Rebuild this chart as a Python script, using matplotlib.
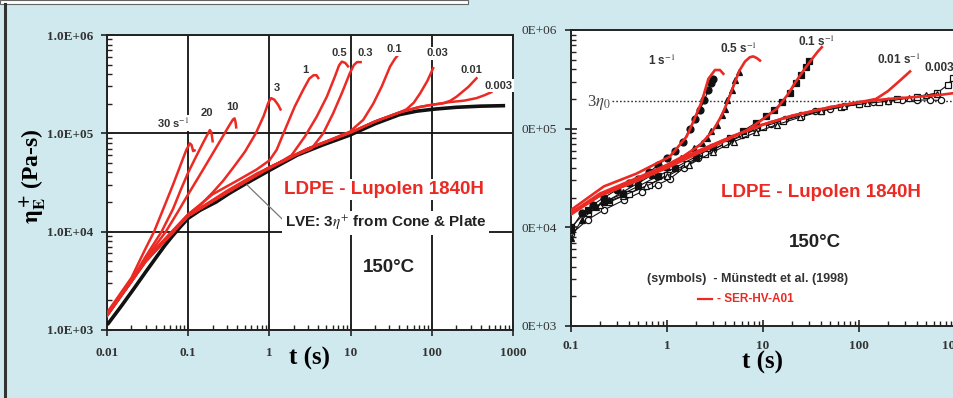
import matplotlib.pyplot as plt
from matplotlib.patches import Rectangle
from matplotlib.lines import Line2D
from matplotlib.ticker import LogLocator, NullFormatter

plt.rcParams['mathtext.fontset'] = 'stix'

BG = '#cfe9ee'
RED = '#ec2a24'
SANS = 'Liberation Sans'
SERIF = 'Liberation Serif'

# ---- left panel: LVE envelope (3 eta+ from cone & plate) ----
lve_t = [0.0104, 0.015, 0.021, 0.03, 0.041, 0.052, 0.063, 0.08, 0.1, 0.14, 0.22, 0.32, 0.52, 1.0, 2.2,
         4.5, 9.8, 20, 40, 65, 105, 200, 400, 760]
lve_eta = [1170, 1750, 2570, 3900, 5580, 7300, 8900, 1.12e4, 1.37e4, 1.65e4, 2.0e4, 2.45e4, 3.1e4, 4.2e4,
           6.0e4, 7.6e4, 9.6e4, 1.25e5, 1.55e5, 1.68e5, 1.76e5, 1.84e5, 1.89e5, 1.91e5]

# ---- left panel: SER curves, one per strain rate ----
t_30 = [0.01, 0.02, 0.03, 0.038, 0.05, 0.065, 0.08, 0.095, 0.105, 0.11, 0.115, 0.12]
eta_30 = [1500, 3400, 6800, 1.0e4, 1.75e4, 3.0e4, 4.7e4, 6.8e4, 7.9e4, 7.6e4, 6.6e4, 6.7e4]
t_20 = [0.01, 0.02, 0.03, 0.047, 0.065, 0.08, 0.1, 0.125, 0.15, 0.17, 0.185, 0.193, 0.2]
eta_20 = [1450, 3200, 5600, 1.0e4, 1.7e4, 2.6e4, 4.0e4, 5.8e4, 7.8e4, 9.5e4, 1.08e5, 1.02e5, 8.3e4]
t_10 = [0.01, 0.02, 0.035, 0.053, 0.075, 0.1, 0.14, 0.19, 0.25, 0.31, 0.355, 0.372, 0.383, 0.39]
eta_10 = [1450, 3100, 6300, 1.0e4, 1.6e4, 2.4e4, 3.8e4, 5.8e4, 8.5e4, 1.15e5, 1.38e5, 1.42e5, 1.3e5, 1.15e5]
t_3 = [0.01, 0.03, 0.063, 0.1, 0.14, 0.2, 0.27, 0.36, 0.5, 0.68, 0.85, 0.97, 1.05, 1.15, 1.28, 1.37]
eta_3 = [1450, 5200, 1.0e4, 1.5e4, 1.85e4, 2.5e4, 3.3e4, 4.5e4, 6.5e4, 1.0e5, 1.5e5, 2.05e5, 2.28e5, 2.2e5,
         1.95e5, 1.75e5]
t_1 = [0.01, 0.03, 0.063, 0.1, 0.2, 0.4, 0.7, 1.0, 1.23, 1.55, 2.05, 2.6, 3.1, 3.5, 3.8, 4.0]
eta_1 = [1450, 5200, 1.0e4, 1.5e4, 2.4e4, 3.3e4, 4.3e4, 5.3e4, 6.8e4, 1.08e5, 1.87e5, 2.76e5, 3.6e5, 3.9e5,
         3.9e5, 3.65e5]
t_05 = [0.01, 0.03, 0.063, 0.1, 0.3, 0.7, 1.3, 1.88, 2.74, 3.83, 5.1, 6.4, 7.2, 7.8, 8.6, 9.3]
eta_05 = [1400, 5100, 9800, 1.45e4, 2.6e4, 3.9e4, 5.0e4, 6.0e4, 9.3e4, 1.48e5, 2.36e5, 3.77e5, 4.9e5, 5.36e5,
          5.2e5, 4.8e5]
t_03 = [0.01, 0.03, 0.063, 0.1, 0.3, 1.0, 2.2, 3.3, 4.6, 6.1, 7.8, 9.8, 11.0, 12.0, 13.3]
eta_03 = [1400, 5100, 9800, 1.45e4, 2.55e4, 4.4e4, 6.1e4, 7.0e4, 1.0e5, 1.6e5, 2.56e5, 4.1e5, 4.96e5, 5.3e5,
          5.3e5]
t_01 = [0.01, 0.03, 0.063, 0.1, 0.3, 1.0, 3.0, 6.0, 9.8, 14.3, 19.0, 24.2, 30.6, 35.0, 38.6]
eta_01 = [1400, 5000, 9700, 1.45e4, 2.5e4, 4.5e4, 7.0e4, 8.8e4, 1.04e5, 1.37e5, 2.0e5, 3.0e5, 4.77e5, 5.7e5,
          6.3e5]
t_003 = [0.01, 0.03, 0.063, 0.1, 0.3, 1.0, 3.0, 10, 20, 40, 49, 60, 72, 88, 104]
eta_003 = [1400, 5000, 9600, 1.45e4, 2.5e4, 4.5e4, 7.0e4, 1.02e5, 1.32e5, 1.63e5, 1.76e5, 2.05e5, 2.56e5,
           3.4e5, 4.6e5]
t_001 = [0.01, 0.03, 0.1, 0.3, 1.0, 3.0, 10, 20, 40, 70, 100, 138, 170, 202, 280, 355]
eta_001 = [1400, 5000, 1.45e4, 2.5e4, 4.5e4, 7.0e4, 1.02e5, 1.32e5, 1.63e5, 1.85e5, 1.95e5, 2.02e5, 2.15e5,
           2.36e5, 2.95e5, 3.63e5]
t_0003 = [0.01, 0.03, 0.1, 0.3, 1.0, 3.0, 10, 20, 40, 70, 100, 168, 250, 355, 450, 540]
eta_0003 = [1400, 5000, 1.45e4, 2.5e4, 4.5e4, 7.0e4, 1.02e5, 1.32e5, 1.63e5, 1.85e5, 1.95e5, 2.08e5, 2.15e5,
            2.28e5, 2.45e5, 2.62e5]

left_labels = ['30 s$^{-1}$', '20', '10', '3', '1', '0.5', '0.3', '0.1', '0.03', '0.01', '0.003']
left_label_t = [0.065, 0.169, 0.35, 1.23, 2.74, 7.26, 15.0, 34.5, 117, 309, 659]
left_label_eta = [1.28e5, 1.6e5, 1.87e5, 2.87e5, 4.4e5, 6.5e5, 6.5e5, 7.16e5, 6.5e5, 4.4e5, 3.05e5]

# ---- right panel: SER lines ----
rt_1 = [0.1, 0.22, 0.48, 1.07, 1.6, 1.88, 2.3, 2.7, 3.16, 3.56, 3.86]
reta_1 = [1.5e4, 2.6e4, 3.5e4, 5.2e4, 8.3e4, 1.18e5, 1.88e5, 3.2e5, 3.93e5, 3.93e5, 3.6e5]
rt_05 = [0.1, 0.2, 0.5, 1.0, 1.5, 2.2, 3.0, 3.7, 4.3, 5.0, 5.7, 6.5, 7.3, 7.9, 8.6, 9.3]
reta_05 = [1.4e4, 2.2e4, 3.2e4, 4.3e4, 5.3e4, 6.8e4, 9.5e4, 1.35e5, 1.9e5, 2.8e5, 3.9e5, 4.8e5, 5.3e5, 5.4e5,
           5.2e5, 4.9e5]
rt_01 = [0.1, 0.2, 0.5, 1, 2, 4, 7, 10, 14, 18, 22, 27, 32, 37, 41]
reta_01 = [1.35e4, 2.1e4, 3.0e4, 4.0e4, 5.5e4, 7.5e4, 9.8e4, 1.25e5, 1.6e5, 2.2e5, 3.0e5, 4.0e5, 5.0e5, 6.0e5,
           6.7e5]
rt_001 = [0.1, 0.2, 0.5, 1, 2, 5, 10, 20, 50, 100, 150, 200, 260, 340]
reta_001 = [1.4e4, 2.1e4, 3.0e4, 4.2e4, 5.8e4, 8.5e4, 1.1e5, 1.35e5, 1.65e5, 1.85e5, 2.0e5, 2.4e5, 3.0e5, 3.8e5]
rt_0003 = [0.1, 0.2, 0.5, 1, 2, 5, 10, 20, 50, 100, 200, 400, 700, 1000]
reta_0003 = [1.4e4, 2.1e4, 3.0e4, 4.2e4, 5.8e4, 8.5e4, 1.1e5, 1.35e5, 1.65e5, 1.85e5, 2.0e5, 2.1e5, 2.2e5, 2.3e5]

# ---- right panel: Muenstedt et al. symbols ----
mt_1 = [0.1, 0.13, 0.17, 0.22, 0.3, 0.4, 0.5, 0.65, 0.81, 1.0, 1.2, 1.47, 1.73, 1.95, 2.2, 2.45, 2.7, 2.9, 3.05]
meta_1 = [9.5e3, 1.4e4, 1.7e4, 2.0e4, 2.4e4, 2.8e4, 3.1e4, 3.6e4, 4.3e4, 5.0e4, 6.0e4, 7.4e4, 1.0e5, 1.25e5,
          1.55e5, 1.95e5, 2.45e5, 2.9e5, 3.2e5]
mt_05 = [0.1, 0.13, 0.18, 0.25, 0.35, 0.5, 0.7, 1.0, 1.4, 1.9, 2.3, 2.6, 2.9, 3.3, 3.7, 4.0, 4.25, 4.7, 5.1, 5.66]
meta_05 = [7.8e3, 1.2e4, 1.6e4, 1.9e4, 2.3e4, 2.8e4, 3.4e4, 4.1e4, 5.0e4, 6.3e4, 7.2e4, 8.0e4, 9.4e4, 1.09e5,
           1.38e5, 1.6e5, 1.96e5, 2.47e5, 3.1e5, 3.78e5]
mt_01 = [0.1, 0.15, 0.22, 0.35, 0.5, 0.8, 1.2, 2, 3, 4.5, 6.2, 8.5, 10.7, 13, 15.7, 19, 22, 25, 28, 30.5]
meta_01 = [1.0e4, 1.5e4, 1.8e4, 2.2e4, 2.6e4, 3.3e4, 4.0e4, 5.2e4, 6.5e4, 8.0e4, 9.5e4, 1.15e5, 1.33e5, 1.55e5,
           1.85e5, 2.3e5, 2.9e5, 3.5e5, 4.2e5, 4.9e5]
mt_c = [0.1, 0.15, 0.22, 0.36, 0.55, 0.8, 1.07, 1.5, 2.1, 3.0, 4.2, 6, 8.5, 12, 17, 25, 35, 50, 70, 100, 140,
        200, 280, 400, 550, 720]
meta_c = [8.5e3, 1.2e4, 1.5e4, 1.9e4, 2.3e4, 2.7e4, 3.1e4, 4.0e4, 5.0e4, 6.1e4, 7.3e4, 8.6e4, 1.0e5, 1.12e5,
          1.25e5, 1.38e5, 1.5e5, 1.6e5, 1.7e5, 1.78e5, 1.85e5, 1.9e5, 1.93e5, 1.95e5, 1.95e5, 1.93e5]
mt_s = [0.15, 0.25, 0.4, 0.65, 1.0, 1.6, 2.5, 4, 6.5, 10, 16, 25, 40, 65, 100, 160, 250, 400, 650, 850, 950]
meta_s = [1.4e4, 1.8e4, 2.2e4, 2.7e4, 3.4e4, 4.4e4, 5.6e4, 7.0e4, 8.8e4, 1.05e5, 1.2e5, 1.35e5, 1.52e5, 1.65e5,
          1.78e5, 1.88e5, 1.98e5, 2.1e5, 2.3e5, 2.8e5, 3.3e5]
mt_tri = [0.2, 0.35, 0.6, 1.0, 1.7, 3.0, 5, 8.5, 14, 24, 40, 70, 120, 200, 330, 500, 650]
meta_tri = [1.7e4, 2.1e4, 2.6e4, 3.3e4, 4.3e4, 5.8e4, 7.4e4, 9.2e4, 1.1e5, 1.3e5, 1.5e5, 1.68e5, 1.8e5, 1.9e5,
            2.05e5, 2.2e5, 2.25e5]

right_labels = ['1 s$^{-1}$', '0.5 s$^{-1}$', '0.1 s$^{-1}$', '0.01 s$^{-1}$', '0.003']
right_label_t = [0.887, 5.62, 36.5, 261, 681]
right_label_eta = [4.85e5, 6.4e5, 7.6e5, 4.97e5, 4.12e5]

eta0_3 = 1.92e5

fig = plt.figure(figsize=(9.54, 3.98), dpi=100, facecolor=BG)

# frame pieces of the original slide
fig.patches.append(Rectangle((0, 1 - 4 / 398), 468 / 954, 4 / 398, transform=fig.transFigure,
                             facecolor='white', edgecolor='#666666', lw=0.8))
fig.lines.append(Line2D([5 / 954, 5 / 954], [0, 1 - 4 / 398], transform=fig.transFigure,
                        color='#333333', lw=2.2))


def style_axes(ax, xt, xl, yt, yl, ybold=True, xpad=8):
    ax.set_xscale('log')
    ax.set_yscale('log')
    ax.set_facecolor('white')
    for s in ax.spines.values():
        s.set_linewidth(1.4)
        s.set_color('#222222')
    ax.xaxis.set_minor_locator(LogLocator(base=10, subs=range(2, 10), numticks=20))
    ax.yaxis.set_minor_locator(LogLocator(base=10, subs=range(2, 10), numticks=20))
    ax.xaxis.set_minor_formatter(NullFormatter())
    ax.yaxis.set_minor_formatter(NullFormatter())
    ax.set_xticks(xt)
    ax.set_xticklabels(xl, family=SERIF, weight='bold', fontsize=9.5, color='#333333')
    ax.set_yticks(yt)
    ax.set_yticklabels(yl, family=SERIF, weight='bold' if ybold else 'normal',
                       fontsize=9.5, color='#333333')
    ax.set_xlim(xt[0], xt[-1])
    ax.set_ylim(yt[0], yt[-1])
    ax.tick_params(which='major', direction='inout', length=8, width=1.2, color='#222222')
    ax.tick_params(which='minor', direction='in', length=3.5, width=1.0, color='#222222')
    ax.tick_params(axis='x', which='major', pad=xpad)
    ax.tick_params(axis='y', which='major', pad=6)


# ================= left panel =================
ax1 = fig.add_axes([107 / 954, 1 - 330 / 398, 406 / 954, 295 / 398])
style_axes(ax1, [0.01, 0.1, 1, 10, 100, 1000], ['0.01', '0.1', '1', '10', '100', '1000'],
           [1e3, 1e4, 1e5, 1e6], ['1.0E+03', '1.0E+04', '1.0E+05', '1.0E+06'])
ax1.grid(True, which='major', color='#111111', lw=1.3, zorder=0)
ax1.set_axisbelow(True)
ax1.set_xlabel('t (s)', family=SERIF, weight='bold', fontsize=18, va='center')
ax1.xaxis.set_label_coords(0.5, -28 / 295)
ax1.set_ylabel(r'$\mathbf{\eta}_{\mathbf{E}}^{\,\mathbf{+}}$ (Pa-s)', family=SERIF, weight='bold',
               fontsize=17, va='center')
ax1.yaxis.set_label_coords(-74 / 406, 0.52)

ax1.plot(lve_t, lve_eta, color='#111111', lw=2.6, zorder=3)
left_curves = [(t_30, eta_30), (t_20, eta_20), (t_10, eta_10), (t_3, eta_3), (t_1, eta_1),
               (t_05, eta_05), (t_03, eta_03), (t_01, eta_01), (t_003, eta_003),
               (t_001, eta_001), (t_0003, eta_0003)]
for tt, ee in left_curves:
    ax1.plot(tt, ee, color=RED, lw=1.8, zorder=4, solid_joinstyle='round')

for lab, tx, ex in zip(left_labels, left_label_t, left_label_eta):
    ax1.text(tx, ex, lab, family=SANS, weight='bold', fontsize=8, color='#333333',
             ha='center', va='center', zorder=6,
             bbox=dict(facecolor='white', edgecolor='none', pad=1))

ax1.text(25.4, 2.66e4, 'LDPE - Lupolen 1840H', family=SANS, weight='bold', fontsize=13.5,
         color=RED, ha='center', va='center', zorder=6,
         bbox=dict(facecolor='white', edgecolor='none', pad=1.5))
ax1.text(1.556, 1.23e4, r'LVE: 3$\eta^{+}$ from Cone & Plate', family=SANS, weight='bold',
         fontsize=11, color='#222222', ha='left', va='center', zorder=6,
         bbox=dict(facecolor='white', edgecolor='none', pad=2))
ax1.text(29.7, 4.29e3, '150°C', family=SANS, weight='bold', fontsize=13.5, color='#222222',
         ha='center', va='center', zorder=6,
         bbox=dict(facecolor='white', edgecolor='none', pad=4))
ax1.plot([0.53, 1.47], [2.99e4, 1.32e4], color='#777777', lw=0.9, zorder=5)

# ================= right panel =================
ax2 = fig.add_axes([571 / 954, 1 - 326 / 398, 384 / 954, 296 / 398])
style_axes(ax2, [0.1, 1, 10, 100, 1000], ['0.1', '1', '10', '100', '1000'],
           [1e3, 1e4, 1e5, 1e6], ['0E+03', '0E+04', '0E+05', '0E+06'], ybold=False, xpad=6)
ax2.set_xlabel('t (s)', family=SERIF, weight='bold', fontsize=18, va='center')
ax2.xaxis.set_label_coords(0.5, -36 / 296)

sym_kw = dict(color='#111111', lw=0.8, mew=0.9, zorder=3)
ax2.plot(mt_c, meta_c, marker='o', ms=4.5, mfc='white', mec='#111111', **sym_kw)
ax2.plot(mt_s, meta_s, marker='s', ms=4.2, mfc='white', mec='#111111', **sym_kw)
ax2.plot(mt_tri, meta_tri, marker='^', ms=4.5, mfc='white', mec='#111111', **sym_kw)
ax2.plot(mt_01, meta_01, marker='s', ms=4.5, mfc='#111111', mec='#111111', **sym_kw)
ax2.plot(mt_05, meta_05, marker='^', ms=5, mfc='#111111', mec='#111111', **sym_kw)
ax2.plot(mt_1, meta_1, marker='o', ms=5, mfc='#111111', mec='#111111', **sym_kw)

for tt, ee in [(rt_0003, reta_0003), (rt_001, reta_001), (rt_01, reta_01), (rt_05, reta_05), (rt_1, reta_1)]:
    ax2.plot(tt, ee, color=RED, lw=1.9, zorder=4, solid_joinstyle='round')

ax2.plot([0.267, 1000], [eta0_3, eta0_3], color='#333333', lw=1.0, ls=(0, (1.2, 1.5)), zorder=2)
ax2.text(0.147, 1.86e5, r'3$\eta_0$', family=SERIF, fontsize=12, color='#444444',
         ha='left', va='center')

for lab, tx, ex in zip(right_labels, right_label_t, right_label_eta):
    ax2.text(tx, ex, lab, family=SANS, weight='bold', fontsize=8.5, color='#333333',
             ha='center', va='center', zorder=6)

ax2.text(40.6, 2.28e4, 'LDPE - Lupolen 1840H', family=SANS, weight='bold', fontsize=13.5,
         color=RED, ha='center', va='center', zorder=6,
         bbox=dict(facecolor='white', edgecolor='none', pad=1.5))
ax2.text(34.4, 7.07e3, '150°C', family=SANS, weight='bold', fontsize=13.5, color='#222222',
         ha='center', va='center', zorder=6)
ax2.text(6.98, 3.0e3, '(symbols)  - Münstedt et al. (1998)', family=SANS, weight='bold',
         fontsize=9, color='#333333', ha='center', va='center', zorder=6)
ax2.plot([2.1, 2.94], [1.88e3, 1.88e3], color=RED, lw=1.6)
ax2.text(3.32, 1.88e3, '- SER-HV-A01', family=SANS, weight='bold', fontsize=8.5, color=RED,
         ha='left', va='center', zorder=6)

fig.savefig('out.png', dpi=100, facecolor=BG)
